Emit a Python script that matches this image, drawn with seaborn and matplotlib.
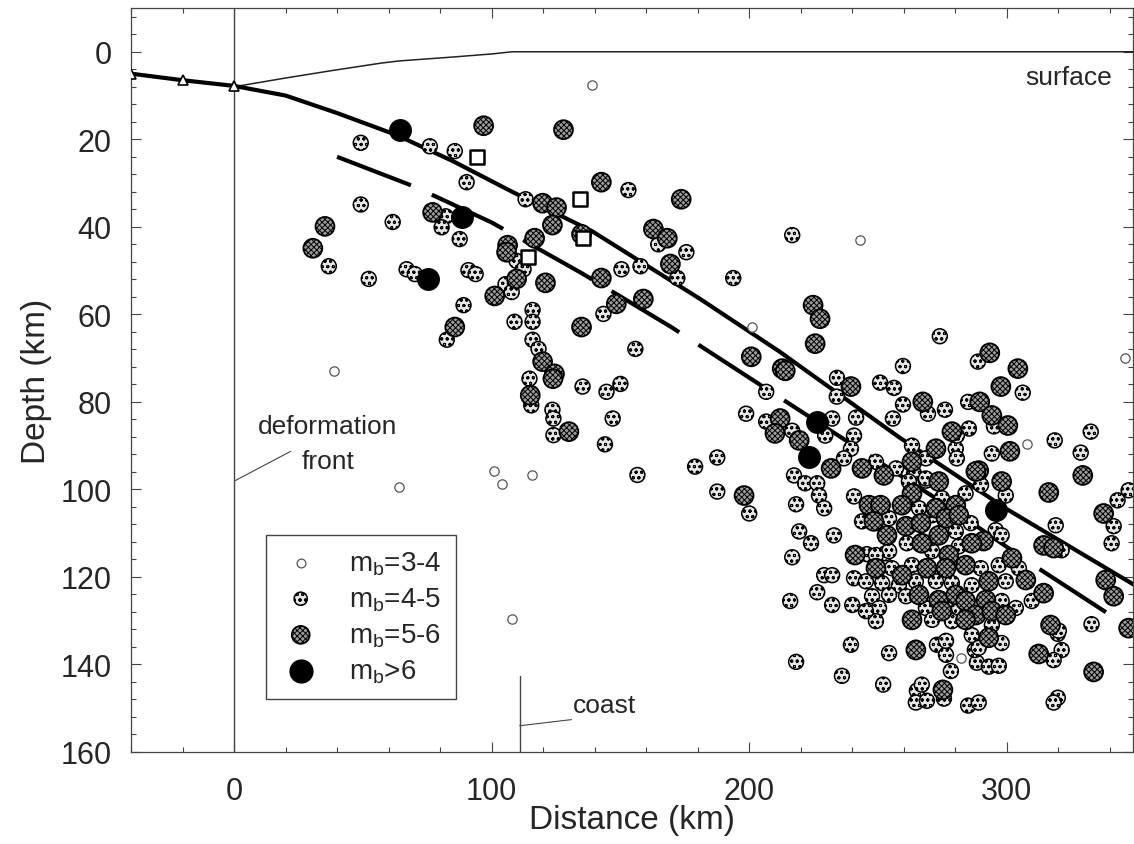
import matplotlib
matplotlib.use('Agg')
import matplotlib.pyplot as plt
from matplotlib.ticker import MultipleLocator
import seaborn as sns

# === data read off the cross-section (distance km, depth km) ===
# mb 3-4 (small events)
mb34_x = [138.8, 38.8, 64.0, 100.8, 103.9, 115.8, 107.8, 243.0, 346.0, 201.0, 307.8, 282.2]
mb34_depth = [7.7, 72.9, 99.5, 95.7, 98.8, 96.7, 129.6, 43.0, 70.0, 62.9, 89.7, 138.5]

# mb 4-5
mb45_x = [49.2, 49.2, 61.6, 36.8, 52.3, 67.0, 70.2, 76.0, 85.7, 90.3, 153.1, 113.2, 82.2, 80.6,
          87.6, 164.7, 175.6, 109.7, 112.4, 91.0, 93.8, 150.4, 157.8, 172.1, 193.8, 105.4, 107.8,
          89.1, 143.4, 82.6, 115.9, 115.9, 108.9, 115.9, 118.2, 114.7, 115.5, 135.3, 144.6, 150.0,
          155.8, 206.6, 115.4, 123.6, 124.0, 147.0, 124.0, 144.0, 156.6, 179.0, 187.6, 187.6, 216.7,
          274.0, 288.8, 259.7, 234.1, 234.0, 250.8, 256.2, 306.2, 269.4, 259.7, 276.0, 285.0, 295.0,
          198.8, 206.6, 232.2, 241.5, 255.8, 216.7, 229.5, 240.7, 285.3, 318.6, 332.6, 328.7, 294.2,
          239.5, 236.8, 217.4, 221.7, 226.4, 227.1, 229.1, 200.0, 218.2, 219.4, 224.0, 232.9, 216.7,
          245.7, 253.0, 229.1, 232.2, 240.7, 226.4, 215.9, 232.2, 240.0, 239.5, 218.2, 236.0, 252.0,
          343.0, 347.3, 341.5, 340.7, 319.0, 321.3, 332.9, 319.8, 321.3, 318.2, 319.8, 318.2, 265.1,
          264.7, 269.0, 275.6, 285.0, 289.1, 267.0, 272.9, 276.4, 278.3, 264.7, 254.3, 288.4, 293.0,
          296.9, 287.6, 264.0, 268.6, 274.8, 284.0, 290.0, 299.6, 240.7, 243.8, 254.3, 265.9, 271.0,
          280.2, 286.0, 295.7, 298.0, 281.4, 271.0, 261.2, 254.3, 249.2, 255.4, 263.2, 289.9, 296.9,
          304.7, 299.6, 286.4, 278.7, 272.5, 264.7, 258.1, 251.6, 245.3, 247.7, 254.3, 260.9, 298.0,
          303.5, 309.7, 281.4, 268.6, 271.0, 278.7, 294.2, 250.4, 249.2, 245.3, 286.4, 298.0, 289.1,
          320.2, 276.4, 268.6, 280.2, 280.6, 268.6, 262.0, 257.0, 249.2, 263.2, 280.6]
mb45_depth = [20.8, 34.9, 38.9, 49.0, 51.9, 49.7, 50.8, 21.6, 22.7, 29.8, 31.6, 33.7, 37.6, 40.1,
              42.8, 44.0, 45.8, 47.8, 49.7, 49.9, 50.8, 49.7, 49.0, 51.7, 51.7, 53.1, 54.9,
              57.9, 59.9, 65.8, 59.0, 61.7, 61.7, 65.8, 67.9, 74.7, 78.1, 76.5, 77.7, 75.9,
              67.9, 77.7, 80.8, 81.8, 83.8, 83.8, 87.6, 89.7, 96.7, 94.8, 92.7, 100.5, 41.9,
              65.0, 70.8, 71.8, 74.5, 78.8, 75.6, 76.8, 77.9, 82.7, 80.6, 81.8, 80.0, 85.6,
              82.7, 84.5, 83.8, 83.6, 83.8, 86.6, 87.7, 87.7, 86.1, 88.8, 86.8, 91.6, 91.8,
              90.7, 92.9, 96.8, 98.6, 98.6, 101.4, 104.3, 105.5, 103.4, 109.6, 112.3, 110.5, 115.5,
              114.8, 114.6, 119.6, 119.6, 120.3, 123.5, 125.5, 126.4, 126.4, 135.5, 139.4, 142.6, 144.6,
              102.5, 100.2, 108.4, 112.3, 108.2, 113.9, 130.8, 133.0, 136.7, 139.0, 147.6, 148.7, 146.0,
              148.7, 148.3, 147.8, 149.4, 148.7, 144.6, 135.5, 137.8, 141.5, 136.2, 137.4, 139.6, 140.5,
              140.3, 136.7, 96.4, 98.0, 102.0, 100.9, 99.0, 101.4, 101.6, 107.3, 106.6, 104.3, 105.9,
              109.6, 107.7, 109.3, 110.5, 113.0, 114.1, 112.3, 114.1, 115.0, 118.0, 117.3, 118.0, 117.3,
              118.0, 121.0, 121.9, 121.4, 121.0, 121.0, 121.9, 121.4, 121.0, 124.4, 124.1, 124.4, 125.5,
              127.1, 125.5, 127.1, 127.1, 129.8, 130.1, 131.0, 127.1, 130.1, 127.8, 133.3, 135.1, 136.2,
              132.3, 134.6, 92.9, 90.7, 92.9, 97.5, 98.2, 95.2, 93.7, 90.0, 87.7]

# mb 5-6
mb56_x = [35.3, 30.6, 96.9, 127.9, 142.6, 173.6, 119.8, 125.2, 123.6, 77.1, 116.7, 134.9, 162.8,
          168.2, 106.2, 105.8, 169.4, 142.6, 120.9, 109.7, 101.2, 148.4, 158.9, 85.7, 134.9, 119.8,
          124.4, 115.0, 123.8, 130.0, 200.8, 212.8, 224.8, 227.5, 225.6, 214.0, 293.4, 304.3, 239.5,
          297.7, 267.4, 289.5, 294.2, 300.4, 212.0, 210.0, 219.4, 278.7, 329.5, 301.2, 231.8, 198.0,
          243.8, 252.3, 241.1, 316.3, 337.6, 314.3, 318.2, 338.4, 341.5, 347.3, 317.0, 312.4, 333.7,
          275.2, 272.5, 263.2, 273.6, 289.1, 298.0, 263.2, 280.2, 288.0, 246.5, 251.0, 248.4, 253.5,
          259.3, 260.9, 266.7, 272.5, 276.4, 281.4, 273.6, 291.0, 286.4, 277.5, 267.0, 249.2, 259.3,
          269.0, 276.4, 284.0, 302.0, 307.4, 314.3, 293.0, 265.9, 273.6, 280.2, 284.0, 291.9, 274.8,
          288.0, 294.2, 299.6, 284.0, 263.2, 293.0, 264.7]
mb56_depth = [39.9, 44.9, 16.9, 17.8, 29.8, 33.7, 34.6, 35.6, 39.6, 36.7, 42.6, 41.7, 40.5,
              42.6, 44.2, 45.8, 48.5, 51.7, 52.8, 51.9, 55.8, 57.6, 56.5, 62.9, 62.9, 70.8,
              73.6, 78.5, 74.7, 86.8, 69.7, 72.4, 57.9, 61.0, 66.7, 72.9, 68.8, 72.4, 76.5,
              76.5, 80.0, 80.0, 83.1, 85.4, 83.8, 87.2, 88.8, 86.8, 96.8, 91.3, 95.2, 101.4,
              95.2, 96.8, 115.0, 100.7, 105.5, 112.8, 113.4, 120.7, 124.4, 131.7, 131.0, 137.6, 141.7,
              145.8, 90.7, 93.7, 98.2, 95.7, 98.2, 100.9, 103.6, 95.9, 103.6, 103.6, 107.3, 110.5,
              103.6, 108.4, 107.7, 104.3, 106.6, 105.9, 110.5, 111.8, 112.3, 115.0, 112.3, 118.0, 119.6,
              118.0, 118.0, 117.3, 115.7, 120.7, 123.7, 121.0, 124.1, 125.3, 124.1, 125.5, 125.3, 127.8,
              128.7, 127.8, 128.7, 129.8, 129.8, 133.9, 136.7]

# mb > 6
mb6_x = [64.3, 88.4, 75.2, 226.4, 223.3, 295.7]
mb6_depth = [17.8, 37.8, 51.9, 84.5, 92.5, 104.8]

# open squares
square_x = [94.2, 134.5, 135.3, 114.0]
square_depth = [24.0, 33.7, 42.6, 47.0]

# upper (solid) slab line and the points marked with triangles
slab_x = [-40, -20, 0, 20, 40, 63, 85, 108, 139, 181, 212, 258, 300, 350]
slab_depth = [5.0, 6.5, 7.8, 10.0, 14.0, 19.0, 25.0, 32.0, 41.0, 56.5, 68.6, 88.0, 104.5, 122.0]
tri_x = [-40, -20, 0]
tri_depth = [5.0, 6.5, 7.8]

# lower (dashed) line
lower_x = [40, 70, 100, 135, 170, 204, 238, 275, 308, 342]
lower_depth = [24.0, 30.8, 39.0, 50.6, 63.0, 76.0, 89.0, 103.0, 116.4, 129.4]

# surface profile
surface_x = [0, 20, 38, 57, 64, 85, 100, 108, 350]
surface_depth = [8.0, 6.0, 4.3, 2.6, 2.1, 1.2, 0.5, 0.0, 0.0]

legend_labels = [r'm$_\mathregular{b}$=3-4', r'm$_\mathregular{b}$=4-5',
                 r'm$_\mathregular{b}$=5-6', r'm$_\mathregular{b}$>6']

# === style ===
sns.set_style('ticks')
plt.rcParams['font.family'] = ['Liberation Sans', 'DejaVu Sans']
plt.rcParams['hatch.linewidth'] = 0.7

fig = plt.figure(figsize=(11.34, 8.45), dpi=100)
ax = fig.add_axes([131 / 1134, 92 / 845, 1002 / 1134, 744 / 845])

axis_grey = '#444444'
style45 = dict(color='#e6e6e6', edgecolor='black', hatch='ooo')
style56 = dict(color='#9c9c9c', edgecolor='black', hatch='xxxxxx')

# lines
ax.plot(surface_x, surface_depth, color='#222222', lw=1.1, zorder=2)
ax.plot(slab_x, slab_depth, color='black', lw=3.0, zorder=2, solid_capstyle='butt')
ax.plot(lower_x, lower_depth, color='black', lw=3.0, zorder=2,
        linestyle=(0, (19, 5.5)), dash_capstyle='butt')
ax.plot(tri_x, tri_depth, linestyle='none', marker='^', markersize=7,
        markerfacecolor='white', markeredgecolor='black', markeredgewidth=1.2, zorder=4)

# deformation front and coast
ax.axvline(0, color=axis_grey, lw=1.0, zorder=1)
ax.plot([110.9, 110.9], [142.6, 160], color=axis_grey, lw=1.0, zorder=1)
ax.plot([0.4, 22], [98, 91.3], color=axis_grey, lw=0.8, zorder=1)
ax.plot([110.9, 131], [154, 152.6], color=axis_grey, lw=0.8, zorder=1)

# events
sns.scatterplot(x=mb34_x, y=mb34_depth, ax=ax, s=45, color='white', edgecolor='#555555',
                linewidth=0.9, zorder=3, legend=False)
sns.scatterplot(x=mb45_x, y=mb45_depth, ax=ax, s=115, linewidth=1.1, zorder=3,
                legend=False, **style45)
sns.scatterplot(x=mb56_x, y=mb56_depth, ax=ax, s=185, linewidth=1.3, zorder=3,
                legend=False, **style56)
sns.scatterplot(x=mb6_x, y=mb6_depth, ax=ax, s=240, color='black', edgecolor='black',
                linewidth=1.0, zorder=4, legend=False)
sns.scatterplot(x=square_x, y=square_depth, ax=ax, s=110, marker='s', color='white',
                edgecolor='black', linewidth=1.8, zorder=4, legend=False)

# annotations
ax.text(340.7, 5.7, 'surface', fontsize=19, ha='right', va='center')
ax.text(36.5, 85.4, 'deformation', fontsize=19, ha='center', va='center')
ax.text(36.5, 93.6, 'front', fontsize=19, ha='center', va='center')
ax.text(131.4, 149.2, 'coast', fontsize=19, ha='left', va='center')

# legend
handles = [
    ax.scatter([], [], s=40, color='white', edgecolor='#555555', linewidths=0.9),
    ax.scatter([], [], s=90, linewidths=1.1, **style45),
    ax.scatter([], [], s=165, linewidths=1.3, **style56),
    ax.scatter([], [], s=270, color='black', edgecolor='black'),
]
leg = ax.legend(handles, legend_labels, loc='upper left',
                bbox_to_anchor=(266 / 1134, 1 - 536 / 845), bbox_transform=fig.transFigure,
                fontsize=20, scatterpoints=1, frameon=True, fancybox=False, framealpha=1,
                borderpad=0.5, labelspacing=0.3, handlelength=1.5, handletextpad=1.0,
                borderaxespad=0)
leg.get_frame().set_edgecolor(axis_grey)
leg.get_frame().set_linewidth(1.0)

# axes
ax.set_xlim(-40, 349)
ax.set_ylim(160, -10)
ax.xaxis.set_major_locator(MultipleLocator(100))
ax.xaxis.set_minor_locator(MultipleLocator(20))
ax.yaxis.set_major_locator(MultipleLocator(20))
ax.yaxis.set_minor_locator(MultipleLocator(4))
ax.tick_params(which='both', direction='in', top=True, right=True, color=axis_grey, width=0.8)
ax.tick_params(which='major', length=7)
ax.tick_params(which='minor', length=3.5)
ax.tick_params(axis='x', which='major', labelsize=22, pad=17)
ax.tick_params(axis='y', which='major', labelsize=22, pad=14)
for sp in ax.spines.values():
    sp.set_color(axis_grey)
    sp.set_linewidth(0.9)

ax.set_xlabel('Distance (km)', fontsize=24)
ax.set_ylabel('Depth (km)', fontsize=24)
ax.xaxis.set_label_coords(0.5, -0.0695)
ax.yaxis.set_label_coords(-0.079, 0.5)

fig.savefig('out.png', dpi=100)
